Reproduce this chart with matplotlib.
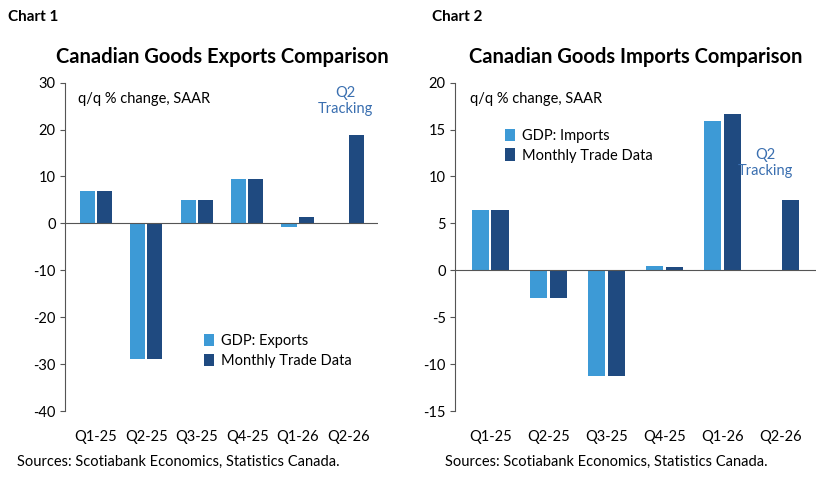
import numpy as np
import matplotlib.pyplot as plt

quarters = ['Q1-25', 'Q2-25', 'Q3-25', 'Q4-25', 'Q1-26', 'Q2-26']
exp_gdp = [7.0, -29.0, 5.0, 9.5, -0.8, np.nan]
exp_trade = [7.0, -29.0, 5.0, 9.5, 1.3, 18.8]
imp_gdp = [6.4, -3.0, -11.3, 0.5, 15.9, np.nan]
imp_trade = [6.4, -3.0, -11.3, 0.4, 16.7, 7.5]

light = '#3d9ad6'
dark = '#1f4a80'
plt.rcParams['font.family'] = ['Lato', 'DejaVu Sans']
plt.rcParams['axes.unicode_minus'] = False

fig = plt.figure(figsize=(8.28, 4.83), dpi=100)
ax1 = fig.add_axes([0.079, 0.149, 0.378, 0.680])
ax2 = fig.add_axes([0.550, 0.149, 0.435, 0.680])

fig.text(0.010, 0.965, 'Chart 1', fontsize=11, fontweight='bold', va='center')
fig.text(0.522, 0.965, 'Chart 2', fontsize=11, fontweight='bold', va='center')

def panel(ax, gdp, trade, ylim, step, title, gdp_label, legend_loc, note_xy):
    x = np.arange(len(quarters))
    w = 0.3
    ax.bar(x - w / 2 - 0.02, gdp, w, color=light, label=gdp_label)
    ax.bar(x + w / 2 + 0.02, trade, w, color=dark, label='Monthly Trade Data')
    ax.set_ylim(*ylim)
    ax.set_yticks(np.arange(ylim[0], ylim[1] + 1, step))
    ax.set_xlim(-0.6, len(quarters) - 0.4)
    ax.set_xticks(x)
    ax.set_xticklabels(quarters)
    ax.axhline(0, color='#555555', lw=0.8)
    for s in ['top', 'right', 'bottom']:
        ax.spines[s].set_visible(False)
    ax.spines['left'].set_color('#555555')
    ax.tick_params(axis='x', length=0, labelsize=10.5, pad=14)
    ax.tick_params(axis='y', labelsize=10.5, color='#555555')
    ax.set_title(title, fontsize=14.5, fontweight='bold', pad=14)
    ax.text(0.04, 0.97, 'q/q % change, SAAR', transform=ax.transAxes, fontsize=10.5, va='top')
    ax.text(note_xy[0], note_xy[1], 'Q2\nTracking', transform=ax.transAxes, fontsize=10.5,
            color='#3a6fb0', ha='center', va='top')
    ax.legend(loc=legend_loc[0], bbox_to_anchor=legend_loc[1], frameon=False, fontsize=10.5,
              handlelength=0.7, handleheight=0.9, handletextpad=0.5, labelspacing=0.4)

panel(ax1, exp_gdp, exp_trade, (-40, 30), 10, 'Canadian Goods Exports Comparison',
      'GDP: Exports', ('lower left', (0.4, 0.09)), (0.895, 0.99))
panel(ax2, imp_gdp, imp_trade, (-15, 20), 5, 'Canadian Goods Imports Comparison',
      'GDP: Imports', ('upper left', (0.1, 0.9)), (0.86, 0.8))

fig.text(0.020, 0.035, 'Sources: Scotiabank Economics, Statistics Canada.', fontsize=10.5)
fig.text(0.537, 0.035, 'Sources: Scotiabank Economics, Statistics Canada.', fontsize=10.5)

fig.savefig('out.png', dpi=100)
